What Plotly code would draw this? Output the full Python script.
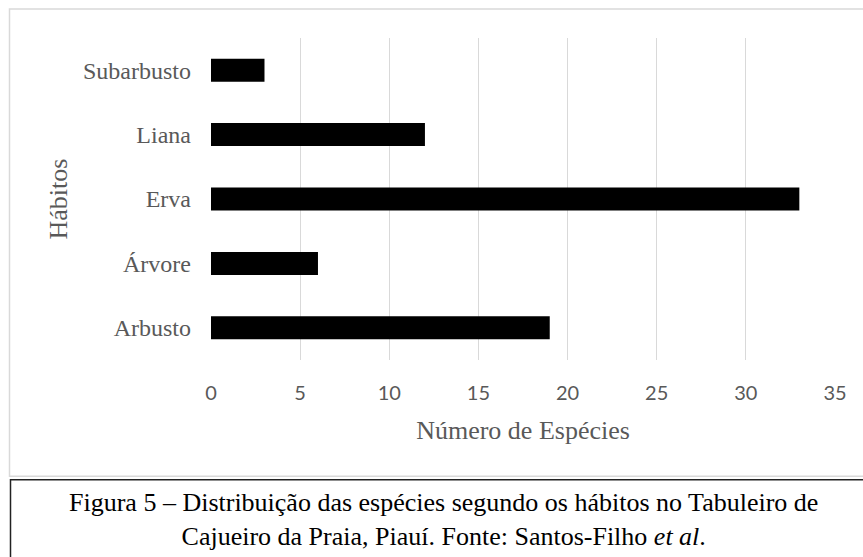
import plotly.graph_objects as go

# Growth habits (bottom to top) and number of species in each
habitos = ["Arbusto", "Árvore", "Erva", "Liana", "Subarbusto"]
especies = [19, 6, 33, 12, 3]
x_ticks = [0, 5, 10, 15, 20, 25, 30, 35]

caption_lines = [
    "Figura 5 – Distribuição das espécies segundo os hábitos no Tabuleiro de",
    "Cajueiro da Praia, Piauí. Fonte: Santos-Filho <i>et al</i>.",
]

W, H = 863, 557
L, R, T, B = 211, 835, 37.5, 359.7  # plot area in pixels


def px(x):
    return (x - L) / (R - L)


def py(y):
    return (B - y) / (B - T)


GRAY = "#595959"
SERIF = "Liberation Serif, Times New Roman, serif"
SANS = "Lato, Carlito, Calibri, sans-serif"

fig = go.Figure(
    go.Bar(
        y=habitos,
        x=especies,
        orientation="h",
        marker=dict(color="black", line=dict(width=0)),
        hoverinfo="x+y",
    )
)

fig.update_layout(
    width=W,
    height=H,
    margin=dict(l=L, r=W - R, t=T, b=H - B, pad=0),
    paper_bgcolor="white",
    plot_bgcolor="white",
    bargap=0.643,
    showlegend=False,
    xaxis=dict(
        range=[0, 35],
        tickvals=x_ticks,
        ticktext=[str(v) for v in x_ticks],
        showgrid=True,
        gridcolor="#d9d9d9",
        gridwidth=1,
        zeroline=False,
        showline=False,
        ticks="",
        ticklabelstandoff=19,
        tickfont=dict(family=SANS, size=20, color=GRAY),
        title=dict(
            text="Número de Espécies",
            font=dict(family=SERIF, size=26, color=GRAY),
            standoff=17,
        ),
        fixedrange=True,
    ),
    yaxis=dict(
        categoryorder="array",
        categoryarray=habitos,
        showgrid=False,
        zeroline=False,
        showline=False,
        ticks="",
        ticklabelstandoff=19,
        tickfont=dict(family=SERIF, size=24, color=GRAY),
        title=dict(
            text="Hábitos",
            font=dict(family=SERIF, size=26, color=GRAY),
            standoff=7,
        ),
        fixedrange=True,
    ),
    shapes=[
        # chart frame
        dict(
            type="rect", xref="paper", yref="paper",
            x0=px(9.5), x1=px(880), y0=py(476), y1=py(8.5),
            line=dict(color="#d9d9d9", width=1.5), fillcolor="rgba(0,0,0,0)",
            layer="below",
        ),
        # caption box
        dict(
            type="rect", xref="paper", yref="paper",
            x0=px(10.5), x1=px(880), y0=py(580), y1=py(479.5),
            line=dict(color="#222222", width=1.5), fillcolor="rgba(0,0,0,0)",
        ),
    ],
    annotations=[
        dict(
            xref="paper", yref="paper",
            x=px(443), y=py(519),
            xanchor="center", yanchor="middle",
            text="<br>".join(caption_lines),
            showarrow=False,
            align="center",
            font=dict(family=SERIF, size=26, color="black"),
        )
    ],
)

fig.write_html("out.html")
